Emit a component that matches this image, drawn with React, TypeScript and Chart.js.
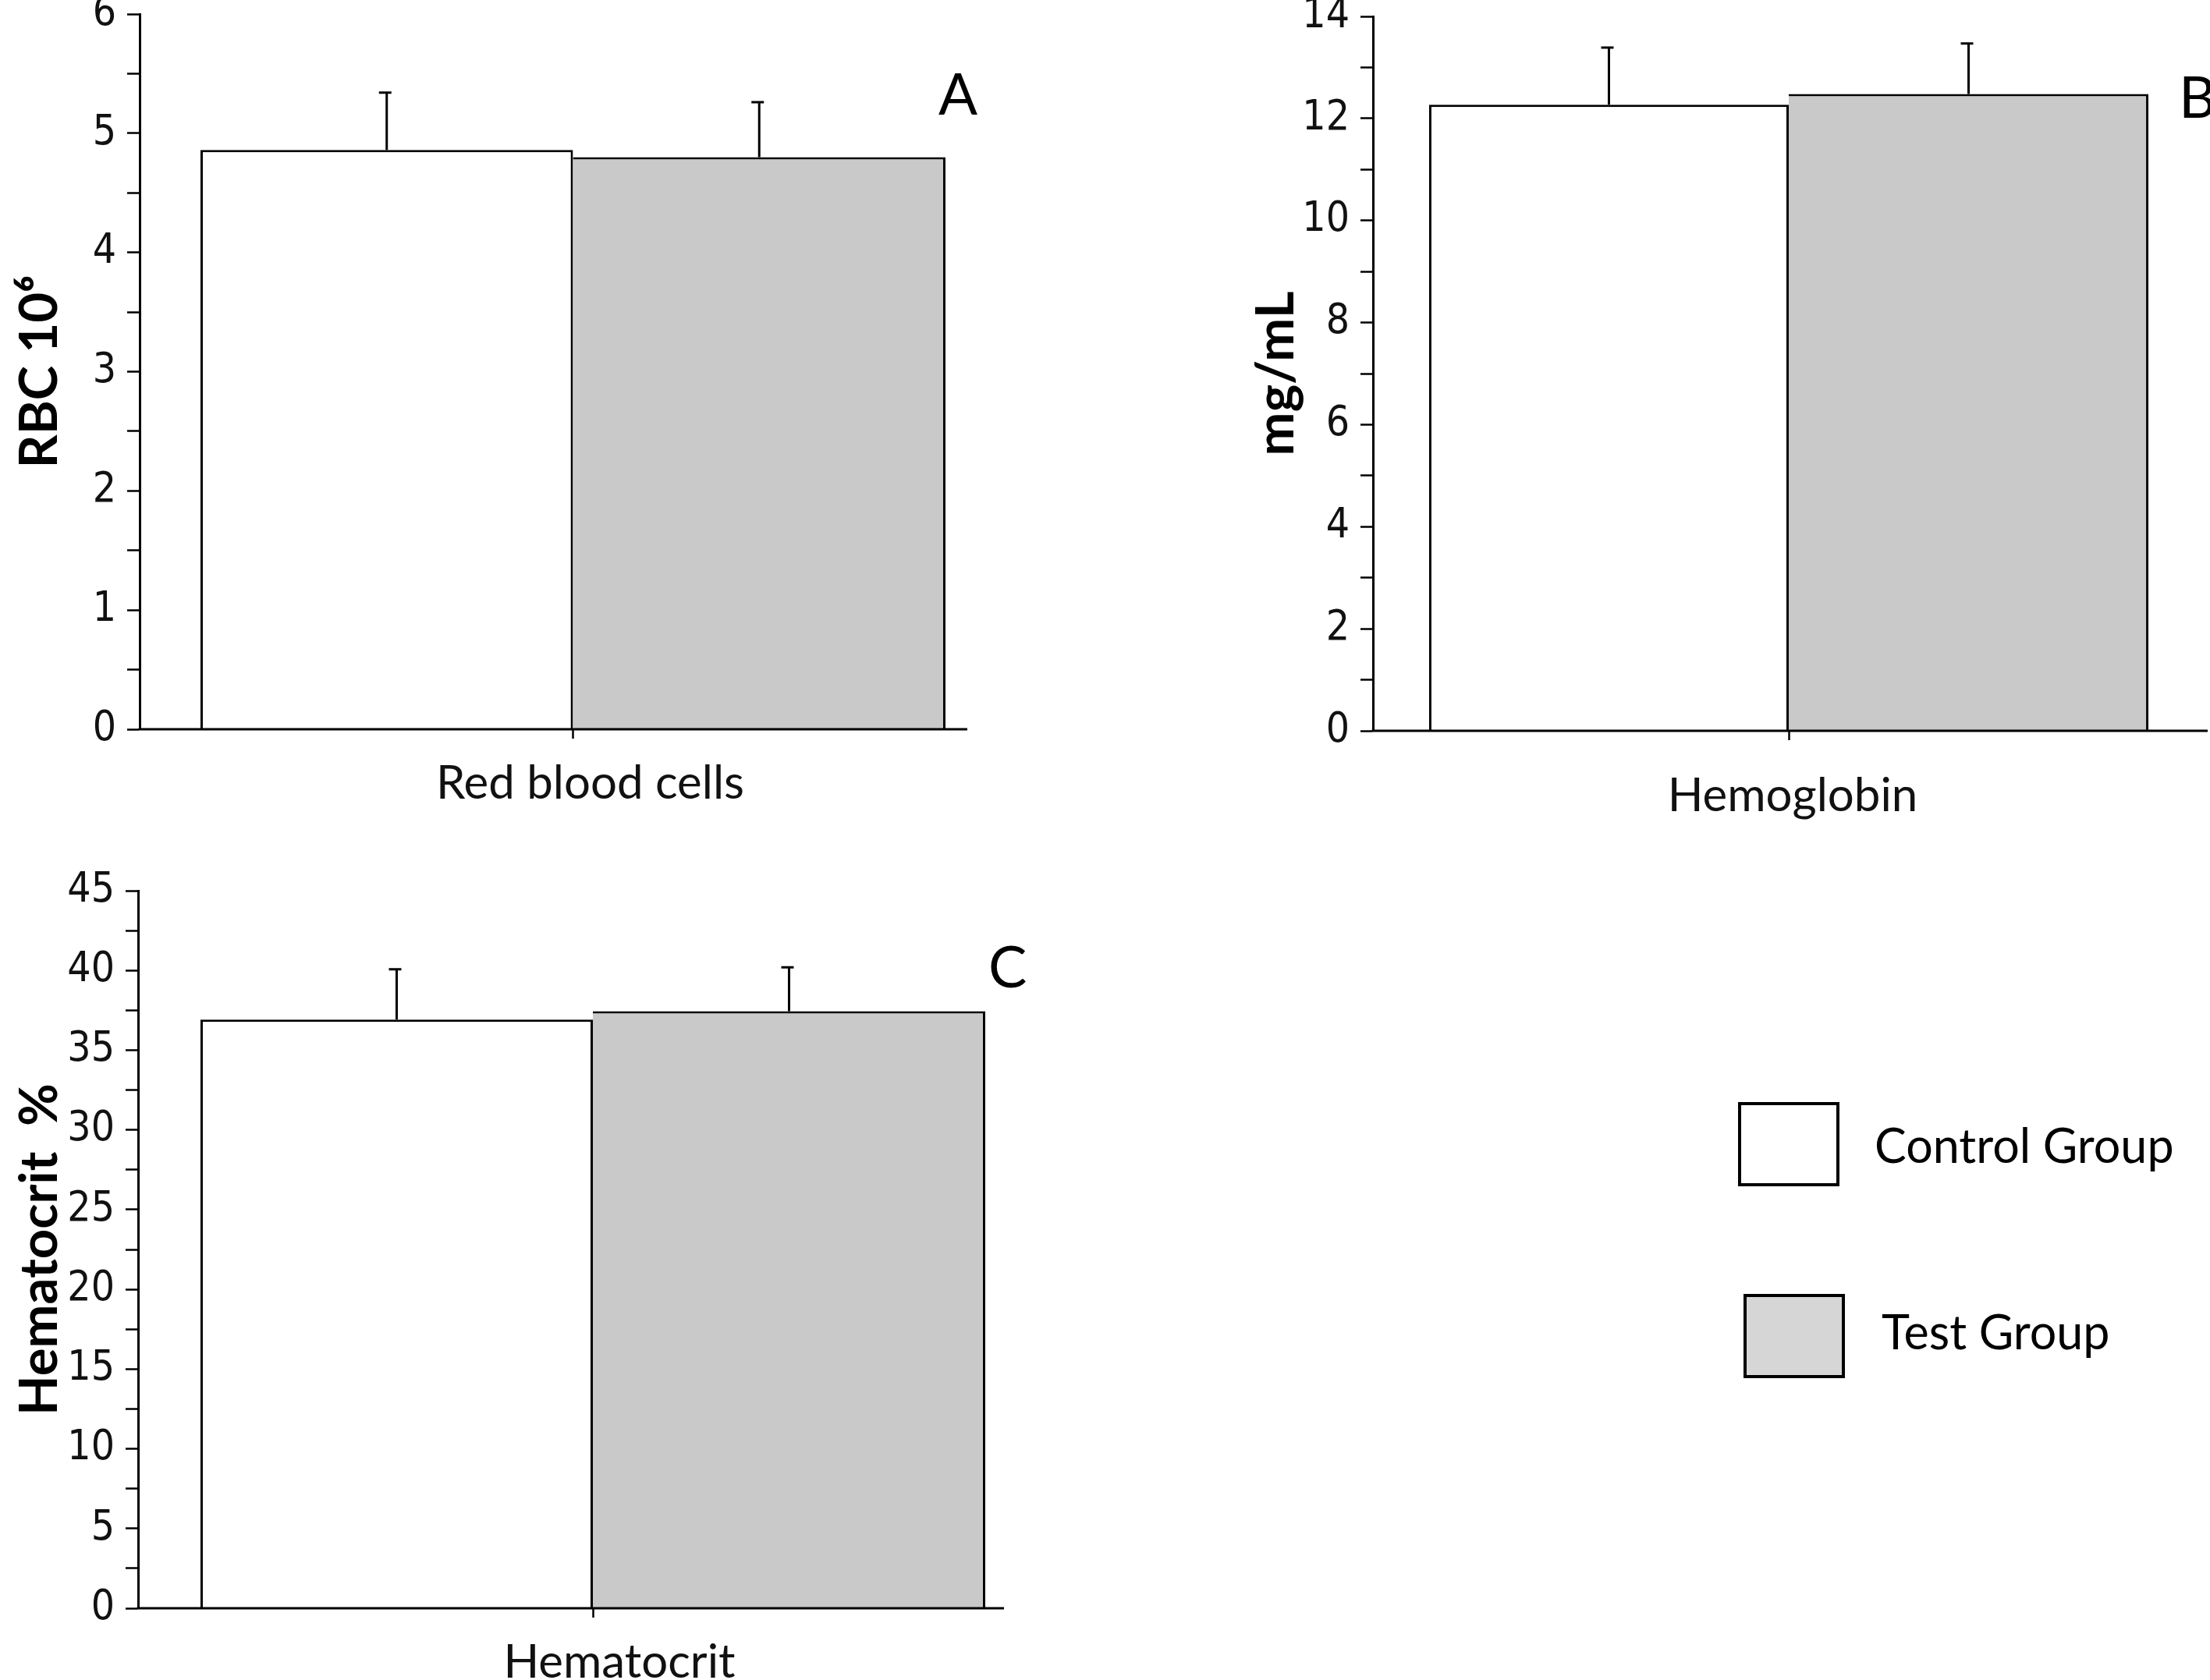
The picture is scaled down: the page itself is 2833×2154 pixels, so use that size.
import React, { useEffect, useRef } from 'react';
import { Chart, registerables } from 'chart.js';

Chart.register(...registerables);

// ---------- data ----------
const groups = ['Control Group', 'Test Group'];
const groupFills = ['#ffffff', '#c9c9c9'];
const legendFills = ['#ffffff', '#d6d6d6'];
const categories = ['Red blood cells', 'Hemoglobin', 'Hematocrit'];
const panelLetters = ['A', 'B', 'C'];
const yTitles = ['RBC 10\u2076', 'mg/mL', 'Hematocrit  %'];
const controlMeans = [4.86, 12.27, 36.92];
const testMeans = [4.8, 12.48, 37.44];
const controlErrors = [0.48, 1.12, 3.15];
const testErrors = [0.46, 0.99, 2.76];
const yMaxima = [6, 14, 45];
const yMajorSteps = [1, 2, 5];
const yMinorSteps = [0.5, 1, 2.5];

// ---------- layout ----------
const SANS = "Lato, 'Open Sans', 'DejaVu Sans', sans-serif";
const NARROW = "'Liberation Sans Narrow', 'DejaVu Sans Condensed', 'Liberation Sans', Arial, sans-serif";

const panels = [
  { left: 0, top: 0, width: 1420, height: 1090, pad: { left: 0, top: 18, right: 130, bottom: 0 }, yWidth: 179, xHeight: 155, titlePad: 11, tickPad: 22, labelOffset: 22, catPct: 0.8596, axisEnd: 1240, letter: { x: 1203, y: 119 } },
  { left: 1420, top: 0, width: 1413, height: 1090, pad: { left: 0, top: 21, right: 7, bottom: 0 }, yWidth: 340, xHeight: 153, titlePad: 176, tickPad: 36, labelOffset: 5, catPct: 0.865, axisEnd: 1410, letter: { x: 2793, y: 123 } },
  { left: 0, top: 1090, width: 1420, height: 1064, pad: { left: 0, top: 52, right: 77, bottom: 0 }, yWidth: 177, xHeight: 92, titlePad: 11, tickPad: 22, labelOffset: 34, catPct: 0.8628, axisEnd: 1287, letter: { x: 1267, y: 1238 } },
];

const errorBarPlugin = {
  id: 'errorBars',
  afterDatasetsDraw(chart: any) {
    const ctx = chart.ctx;
    const yScale = chart.scales.y;
    chart.data.datasets.forEach((ds: any, d: number) => {
      const meta = chart.getDatasetMeta(d);
      meta.data.forEach((bar: any, i: number) => {
        const v = ds.data[i];
        const e = ds.errors[i];
        const top = yScale.getPixelForValue(v + e);
        ctx.save();
        ctx.strokeStyle = '#000';
        ctx.lineWidth = 3;
        ctx.beginPath();
        ctx.moveTo(bar.x, bar.y);
        ctx.lineTo(bar.x, top);
        ctx.moveTo(bar.x - 10, top);
        ctx.lineTo(bar.x + 6, top);
        ctx.stroke();
        ctx.restore();
      });
    });
  },
};

// x-axis base line, drawn at the y scale's zero from the y axis to the panel's axis end
const baseLinePlugin = {
  id: 'baseLine',
  afterDatasetsDraw(chart: any, _args: any, opts: any) {
    const ctx = chart.ctx;
    const y0 = chart.scales.y.getPixelForValue(0);
    ctx.save();
    ctx.strokeStyle = '#000';
    ctx.lineWidth = 3;
    ctx.beginPath();
    ctx.moveTo(chart.chartArea.left - 1.5, y0);
    ctx.lineTo(opts.end, y0);
    ctx.stroke();
    ctx.restore();
  },
};

function Panel({ k }: { k: number }) {
  const ref = useRef<HTMLCanvasElement | null>(null);
  const p = panels[k];
  useEffect(() => {
    if (!ref.current) return;
    const major = yMajorSteps[k];
    const chart = new Chart(ref.current, {
      type: 'bar',
      data: {
        labels: [categories[k]],
        datasets: [
          {
            label: groups[0],
            data: [controlMeans[k]],
            errors: [controlErrors[k]],
            backgroundColor: groupFills[0],
            borderColor: '#000',
            borderWidth: 3,
            categoryPercentage: p.catPct,
            barPercentage: 1,
          } as any,
          {
            label: groups[1],
            data: [testMeans[k]],
            errors: [testErrors[k]],
            backgroundColor: groupFills[1],
            borderColor: '#000',
            borderWidth: { top: 3, right: 3, left: 0, bottom: 0 },
            categoryPercentage: p.catPct,
            barPercentage: 1,
          } as any,
        ],
      },
      options: {
        responsive: false,
        animation: false,
        devicePixelRatio: 1,
        layout: { padding: p.pad },
        plugins: { legend: { display: false }, tooltip: { enabled: false }, baseLine: { end: p.axisEnd } },
        scales: {
          x: {
            type: 'category',
            offset: true,
            grid: { display: true, drawOnChartArea: false, drawTicks: true, tickLength: 12, offset: false, tickColor: '#000', tickWidth: 2.5 },
            border: { display: false },
            ticks: { padding: p.tickPad, labelOffset: p.labelOffset, color: '#111', font: { family: SANS, size: 60 }, maxRotation: 0, autoSkip: false },
            afterFit: (s: any) => { s.height = p.xHeight; s.paddingLeft = 0; s.paddingRight = 0; },
          },
          y: {
            min: 0,
            max: yMaxima[k],
            ticks: {
              stepSize: yMinorSteps[k],
              autoSkip: false,
              padding: 14,
              color: '#111',
              font: { family: NARROW, size: 53 },
              callback: (v: any) => {
                const r = Number(v) / major;
                return Math.abs(r - Math.round(r)) < 1e-6 ? String(v) : '';
              },
            },
            grid: { drawOnChartArea: false, drawTicks: true, tickLength: 16, tickColor: '#000', tickWidth: 2.5 },
            border: { display: true, color: '#000', width: 3 },
            title: { display: true, text: yTitles[k], color: '#000', font: { family: SANS, size: 67, weight: 'bold' }, padding: { top: p.titlePad, bottom: 0 } },
            afterFit: (s: any) => { s.width = p.yWidth; s.paddingTop = 0; s.paddingBottom = 0; },
          },
        },
      } as any,
      plugins: [baseLinePlugin, errorBarPlugin],
    });
    return () => chart.destroy();
  }, [k]);
  return (
    <canvas
      ref={ref}
      width={p.width}
      height={p.height}
      style={{ position: 'absolute', left: p.left, top: p.top, width: p.width, height: p.height }}
    />
  );
}

export default function App() {
  useEffect(() => {
    document.body.style.margin = '0';
    document.body.style.overflow = 'hidden';
  }, []);
  const legendBoxes = [
    { x: 2228, y: 1413, tx: 2403, ty: 1467 },
    { x: 2235, y: 1659, tx: 2412, ty: 1706 },
  ];
  return (
    <div style={{ position: 'absolute', left: 0, top: 0, width: 2833, height: 2154, background: '#fff', overflow: 'hidden' }}>
      {panels.map((_, k) => (
        <Panel key={k} k={k} />
      ))}
      {panels.map((p, k) => (
        <div
          key={'l' + k}
          style={{ position: 'absolute', left: p.letter.x, top: p.letter.y, transform: 'translateY(-50%)', fontFamily: SANS, fontSize: 74, lineHeight: 1, color: '#000' }}
        >
          {panelLetters[k]}
        </div>
      ))}
      {groups.map((g, i) => (
        <React.Fragment key={g}>
          <div
            style={{ position: 'absolute', left: legendBoxes[i].x, top: legendBoxes[i].y, width: 130, height: 108, boxSizing: 'border-box', border: '4px solid #000', background: legendFills[i] }}
          />
          <div
            style={{ position: 'absolute', left: legendBoxes[i].tx, top: legendBoxes[i].ty, transform: 'translateY(-50%)', fontFamily: SANS, fontSize: 61, lineHeight: 1, color: '#000', whiteSpace: 'nowrap' }}
          >
            {g}
          </div>
        </React.Fragment>
      ))}
    </div>
  );
}
